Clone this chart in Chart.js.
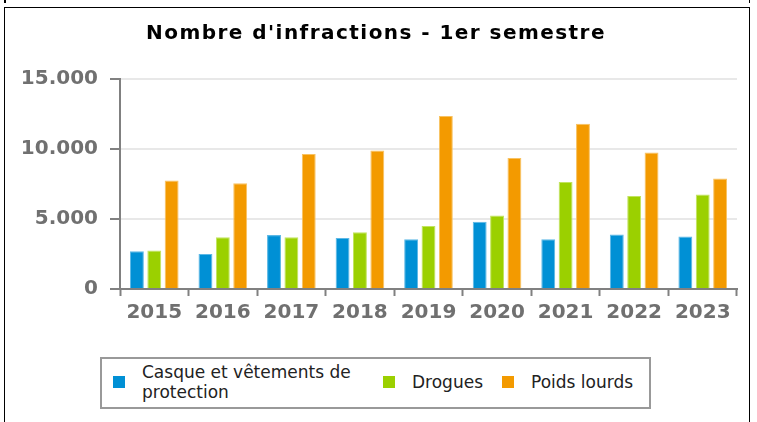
<!DOCTYPE html>
<html>
<head>
<meta charset="utf-8">
<script src="https://cdn.jsdelivr.net/npm/chart.js@4.4.1/dist/chart.umd.min.js"></script>
<style>
  body { margin: 0; background: #fff; font-family: "DejaVu Sans", sans-serif; }
  #frame { position: absolute; left: 4px; top: 7px; width: 746px; height: 430px; border: 1.5px solid #000; box-sizing: border-box; }
  .stub { position: absolute; top: 0; width: 1.5px; height: 3px; background: #000; }
  #wrap { position: absolute; left: 0; top: 0; width: 757px; height: 330px; }
  #legend { position: absolute; left: 100px; top: 357px; width: 551px; height: 52px; border: 2px solid #999; box-sizing: border-box; font-size: 17px; color: #222; }
  .item { position: absolute; display: flex; align-items: center; line-height: 20px; }
  .swatch { width: 12px; height: 12px; margin-right: 17px; flex: none; }
</style>
</head>
<body>
<div id="frame"></div>
<div class="stub" style="left:4px"></div>
<div class="stub" style="left:748.5px"></div>
<div id="wrap"><canvas id="chart"></canvas></div>
<div id="legend"></div>
<script>
// Years on the x axis
const years = ['2015', '2016', '2017', '2018', '2019', '2020', '2021', '2022', '2023'];

// Offences per category, first half of the year
const casque = [2700, 2500, 3850, 3650, 3550, 4800, 3550, 3900, 3750];
const drogues = [2750, 3700, 3700, 4050, 4500, 5250, 7650, 6650, 6750];
const poidsLourds = [7750, 7550, 9650, 9900, 12350, 9350, 11800, 9750, 7900];

const seriesNames = ['Casque et vêtements de protection', 'Drogues', 'Poids lourds'];
const legendLines = [['Casque et vêtements de', 'protection'], ['Drogues'], ['Poids lourds']];

const COLORS = ['#0090d5', '#9bd000', '#f39a00'];
const EDGES = ['#5cb8e6', '#c2e45e', '#f8c262'];
const TICK_GREY = '#707070';
const AXIS_GREY = '#808080';

function formatThousands(v){
    return String(v).replace(/\B(?=(\d{3})+(?!\d))/g, '.');
}

const seriesData = [casque, drogues, poidsLourds];

const chart = new Chart(document.getElementById('chart'), {
    type: 'bar',
    data: {
        labels: years,
        datasets: seriesData.map((d, i) => ({
            label: seriesNames[i],
            data: d,
            backgroundColor: COLORS[i],
            borderColor: EDGES[i],
            borderWidth: { top: 1, left: 1, right: 1, bottom: 0 },
            categoryPercentage: 0.76,
            barPercentage: 0.8
        }))
    },
    options: {
        responsive: true,
        maintainAspectRatio: false,
        animation: false,
        layout: { padding: { left: 15, right: 20, top: 0, bottom: 0 } },
        plugins: {
            legend: { display: false },
            tooltip: { enabled: false },
            title: {
                display: true,
                text: "Nombre d'infractions - 1er semestre",
                color: '#000',
                font: { family: 'DejaVu Sans', size: 20, weight: 'bold' },
                padding: { top: 22, bottom: 33 }
            }
        },
        scales: {
            x: {
                afterFit: s => { s.height = 41; },
                border: { color: AXIS_GREY, width: 2 },
                grid: { display: true, drawOnChartArea: false, offset: true, tickLength: 7, tickColor: AXIS_GREY, tickWidth: 2 },
                ticks: { color: TICK_GREY, padding: 5, font: { family: 'DejaVu Sans', size: 20, weight: 'bold' } }
            },
            y: {
                min: 0,
                max: 15000,
                afterFit: s => { s.width = 105; },
                border: { color: AXIS_GREY, width: 2 },
                grid: { color: '#e8e8e8', lineWidth: 2, tickLength: 10, tickColor: AXIS_GREY, tickWidth: 2 },
                ticks: {
                    stepSize: 5000,
                    color: TICK_GREY,
                    padding: 12,
                    font: { family: 'DejaVu Sans', size: 20, weight: 'bold' },
                    callback: v => formatThousands(v)
                }
            }
        }
    }
});

// the original title is drawn wider, so space its letters out a little
const titleBlock = chart.titleBlock;
const drawTitle = titleBlock.draw.bind(titleBlock);
titleBlock.draw = function(){
    chart.ctx.save();
    chart.ctx.letterSpacing = '1.45px';
    drawTitle();
    chart.ctx.restore();
};
chart.draw();

// HTML legend, built from the datasets
const legend = document.getElementById('legend');
const itemLeft = [11, 281, 400];
chart.data.datasets.forEach((ds, i) => {
    const item = document.createElement('div');
    item.className = 'item';
    item.style.left = itemLeft[i] + 'px';
    item.style.top = legendLines[i].length > 1 ? '3px' : '13px';
    item.innerHTML = `<span class="swatch" style="background:${ds.backgroundColor}"></span><span>${legendLines[i].join('<br>')}</span>`;
    legend.appendChild(item);
});
</script>
</body>
</html>
